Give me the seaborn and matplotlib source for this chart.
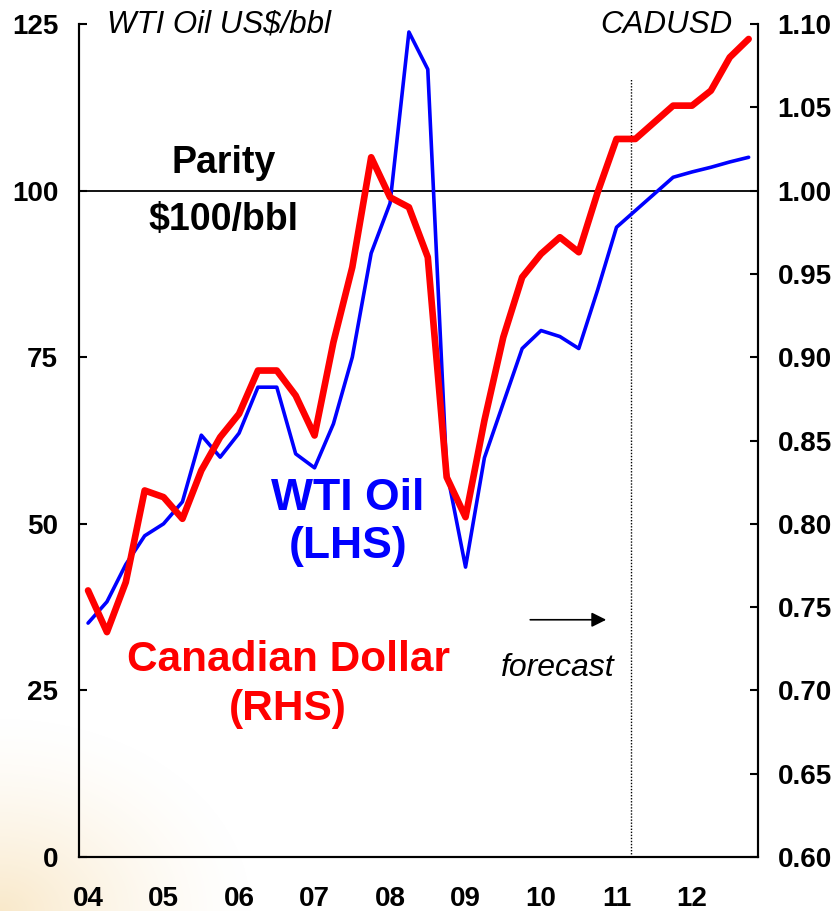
import numpy as np
import pandas as pd
import matplotlib
matplotlib.use("Agg")
import matplotlib.pyplot as plt
import seaborn as sns

# quarterly, 2004Q1 .. 2012Q4
quarters = pd.period_range("2004Q1", "2012Q4", freq="Q")
wti_oil = [35.1, 38.3, 43.9, 48.2, 50.0, 53.3, 63.3, 60.0,
           63.6, 70.5, 70.5, 60.5, 58.4, 65.0, 75.0, 90.6,
           98.1, 123.8, 118.2, 58.0, 43.5, 59.9, 68.1, 76.3,
           79.0, 78.1, 76.3, 85.1, 94.5, 97.0, 99.5, 102.0,
           102.8, 103.5, 104.3, 105.0]
cad_usd = [0.760, 0.735, 0.765, 0.820, 0.816, 0.803, 0.832, 0.852,
           0.866, 0.892, 0.892, 0.877, 0.853, 0.909, 0.954, 1.020,
           0.996, 0.990, 0.960, 0.828, 0.804, 0.862, 0.912, 0.948,
           0.962, 0.972, 0.963, 0.999, 1.031, 1.031, 1.041, 1.051,
           1.051, 1.060, 1.080, 1.091]
year_labels = ["04", "05", "06", "07", "08", "09", "10", "11", "12"]

df = pd.DataFrame({
    "t": quarters.year + (quarters.quarter - 1) / 4,
    "wti": wti_oil,
    "cad": cad_usd,
})

sns.set_style("white")
plt.rcParams["font.family"] = ["Liberation Sans", "DejaVu Sans"]
plt.rcParams["text.color"] = "black"
plt.rcParams["xtick.color"] = "black"
plt.rcParams["ytick.color"] = "black"
plt.rcParams["axes.labelcolor"] = "black"

fig = plt.figure(figsize=(8.37, 9.11), dpi=100)

# faint slide background glow in the lower-left corner
bg = fig.add_axes([0, 0, 1, 1], zorder=-10)
h, w = 911, 837
yy, xx = np.mgrid[0:h, 0:w]
r = np.sqrt((xx / 260.0) ** 2 + ((h - yy) / 200.0) ** 2)
a = np.clip(1 - r, 0, 1) ** 1.5 * 0.55
img = np.ones((h, w, 4))
img[..., 0] = 0.96
img[..., 1] = 0.84
img[..., 2] = 0.62
img[..., 3] = a
bg.imshow(img, aspect="auto", extent=[0, 1, 0, 1])
bg.axis("off")

ax = fig.add_axes([79 / 837, 1 - 857 / 911, 679 / 837, 833 / 911])
ax.patch.set_alpha(0)
ax2 = ax.twinx()

sns.lineplot(data=df, x="t", y="wti", ax=ax, color="#0000ff", linewidth=2.6, zorder=3)
sns.lineplot(data=df, x="t", y="cad", ax=ax2, color="#ff0000", linewidth=4.8, zorder=4)

ax.set_xlim(2003.88, 2012.874)
ax.set_ylim(0, 125)
ax2.set_ylim(0.60, 1.10)
ax.set_xlabel("")
ax.set_ylabel("")
ax2.set_ylabel("")

years = np.arange(2004, 2013)
ax.set_xticks(years)
ax.set_xticklabels(year_labels)
ax.set_xticks(np.arange(2004, 2012) + 0.87, minor=True)
ax.set_yticks([0, 25, 50, 75, 100, 125])
ax2.set_yticks([0.60, 0.65, 0.70, 0.75, 0.80, 0.85, 0.90, 0.95, 1.00, 1.05, 1.10])
ax2.set_yticklabels([f"{v:.2f}" for v in ax2.get_yticks()])

ax.tick_params(axis="x", which="major", length=0, pad=21, labelsize=20)
ax.tick_params(axis="x", which="minor", direction="in", length=6, width=1.5, color="black")
ax.tick_params(axis="y", direction="in", length=6, width=1.5, pad=15, labelsize=20, left=True)
ax2.tick_params(axis="y", direction="in", length=6, width=1.5, pad=14, labelsize=20, right=True)
for lab in ax.get_xticklabels() + ax.get_yticklabels() + ax2.get_yticklabels():
    lab.set_fontweight("bold")

for a_ in (ax, ax2):
    a_.spines["top"].set_visible(False)
    for s in ("left", "right", "bottom"):
        a_.spines[s].set_color("black")
        a_.spines[s].set_linewidth(1.5)

# parity / $100 line
ax.axhline(100, color="black", linewidth=1.3, zorder=2)
# forecast divider
ax.vlines(2011.19, 0, 116.7, colors="black", linestyles=(0, (1, 1.2)), linewidth=1.0)

ax.annotate("", xy=(2010.9, 35.6), xytext=(2009.82, 35.6),
            arrowprops=dict(arrowstyle="-|>", color="black", lw=1.2, mutation_scale=22))

ax.text(2010.22, 28.4, "forecast", fontsize=23, style="italic", ha="center", va="center")
ax.text(2005.80, 104.1, "Parity", fontsize=27, fontweight="bold", ha="center", va="center")
ax.text(2005.80, 95.6, "$100/bbl", fontsize=27, fontweight="bold", ha="center", va="center")
ax.text(2007.44, 50.2, "WTI Oil\n(LHS)", fontsize=32, fontweight="bold", color="#0000ff",
        ha="center", va="center", linespacing=1.2)
ax.text(2006.65, 25.9, "Canadian Dollar\n(RHS)", fontsize=30.5, fontweight="bold", color="#ff0000",
        ha="center", va="center", linespacing=1.3)
ax.text(0.041, 0.999, "WTI Oil US$/bbl", transform=ax.transAxes, fontsize=22.5,
        style="italic", ha="left", va="center")
ax.text(0.962, 0.999, "CADUSD", transform=ax.transAxes, fontsize=22.5,
        style="italic", ha="right", va="center")

fig.savefig("out.png", dpi=100)
